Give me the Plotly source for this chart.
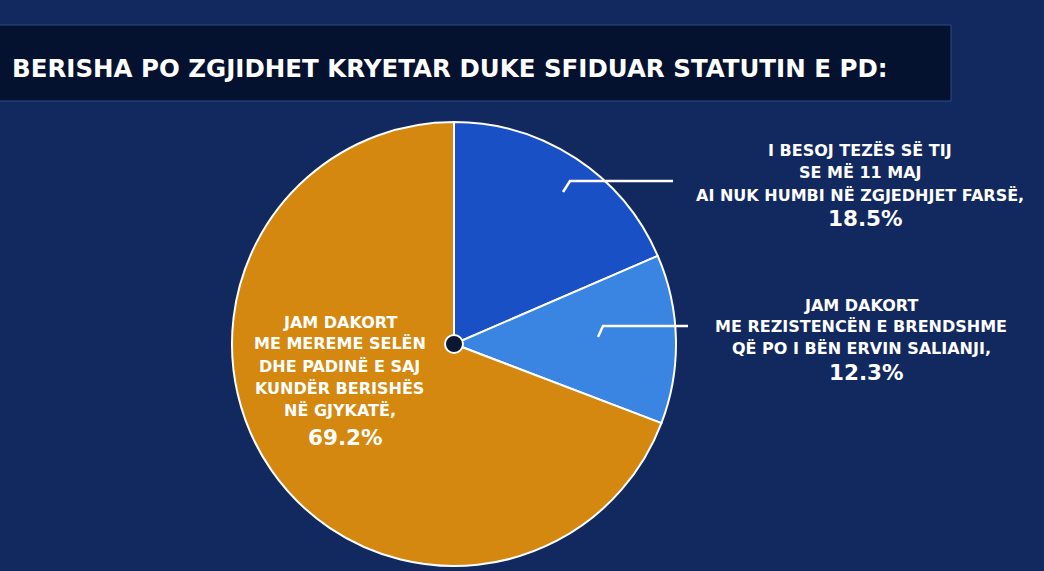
import plotly.graph_objects as go

# ---- data ----
categories = [
    "I BESOJ TEZËS SË TIJ<br>SE MË 11 MAJ<br>AI NUK HUMBI NË ZGJEDHJET FARSË,",
    "JAM DAKORT<br>ME REZISTENCËN E BRENDSHME<br>QË PO I BËN ERVIN SALIANJI,",
    "JAM DAKORT<br>ME MEREME SELËN<br>DHE PADINË E SAJ<br>KUNDËR BERISHËS<br>NË GJYKATË,",
]
values = [18.5, 12.3, 69.2]
colors = ["#1a50c6", "#3a84e2", "#d4880f"]
title_text = "BERISHA PO ZGJIDHET KRYETAR DUKE SFIDUAR STATUTIN E PD:"

W, H = 1044, 571
cx, cy, R = 454, 344, 222
FONT = "DejaVu Sans"

def px(x):
    return x / W

def py(y):
    return 1 - y / H

fig = go.Figure()
fig.add_trace(go.Pie(
    values=values,
    labels=[c.replace("<br>", " ") for c in categories],
    marker=dict(colors=colors, line=dict(color="white", width=2)),
    sort=False,
    direction="clockwise",
    rotation=0,
    textinfo="none",
    hoverinfo="label+value",
    showlegend=False,
    domain=dict(x=[px(cx - R), px(cx + R)], y=[py(cy + R), py(cy - R)]),
))

shapes = []
# title box
shapes.append(dict(type="rect", xref="paper", yref="paper",
                   x0=px(-5), x1=px(951), y0=py(101), y1=py(25),
                   fillcolor="#04112f", line=dict(color="#2a4a8a", width=1), layer="below"))
# leader lines
for pts in ([(563, 192), (570, 181), (673, 181)], [(598, 337), (603, 326), (688, 326)]):
    path = "M " + " L ".join(f"{px(x)},{py(y)}" for x, y in pts)
    shapes.append(dict(type="path", xref="paper", yref="paper", path=path,
                       line=dict(color="white", width=2.5)))
# centre dot
r = 9
shapes.append(dict(type="circle", xref="paper", yref="paper",
                   x0=px(cx - r), x1=px(cx + r), y0=py(cy + r), y1=py(cy - r),
                   fillcolor="#0b1633", line=dict(color="white", width=2)))

annotations = []
annotations.append(dict(text=f"<b>{title_text}</b>", x=px(10), y=py(68), xref="paper", yref="paper",
                        xanchor="left", yanchor="middle", showarrow=False,
                        font=dict(family=FONT, size=24.5, color="white")))

# (centre x, first line y, line gap, percent y)
label_pos = [(860, 150, 22.5, 218), (861, 305, 21.5, 372), (340, 322, 22, 437)]
for cat, val, (lx, ly0, gap, lpy) in zip(categories, values, label_pos):
    for i, line in enumerate(cat.split("<br>")):
        annotations.append(dict(text=f"<b>{line}</b>", x=px(lx), y=py(ly0 + i * gap),
                                xref="paper", yref="paper", xanchor="center", yanchor="middle",
                                showarrow=False,
                                font=dict(family=FONT, size=16, color="white")))
    annotations.append(dict(text=f"<b>{val}%</b>", x=px(lx + 5), y=py(lpy),
                            xref="paper", yref="paper", xanchor="center", yanchor="middle",
                            showarrow=False,
                            font=dict(family=FONT, size=21.5, color="white")))

fig.update_layout(
    width=W, height=H,
    margin=dict(l=0, r=0, t=0, b=0),
    paper_bgcolor="#12295f",
    plot_bgcolor="#12295f",
    shapes=shapes,
    annotations=annotations,
)

fig.write_html("out.html", config={"displayModeBar": False},
               post_script="document.body.style.margin='0';")
